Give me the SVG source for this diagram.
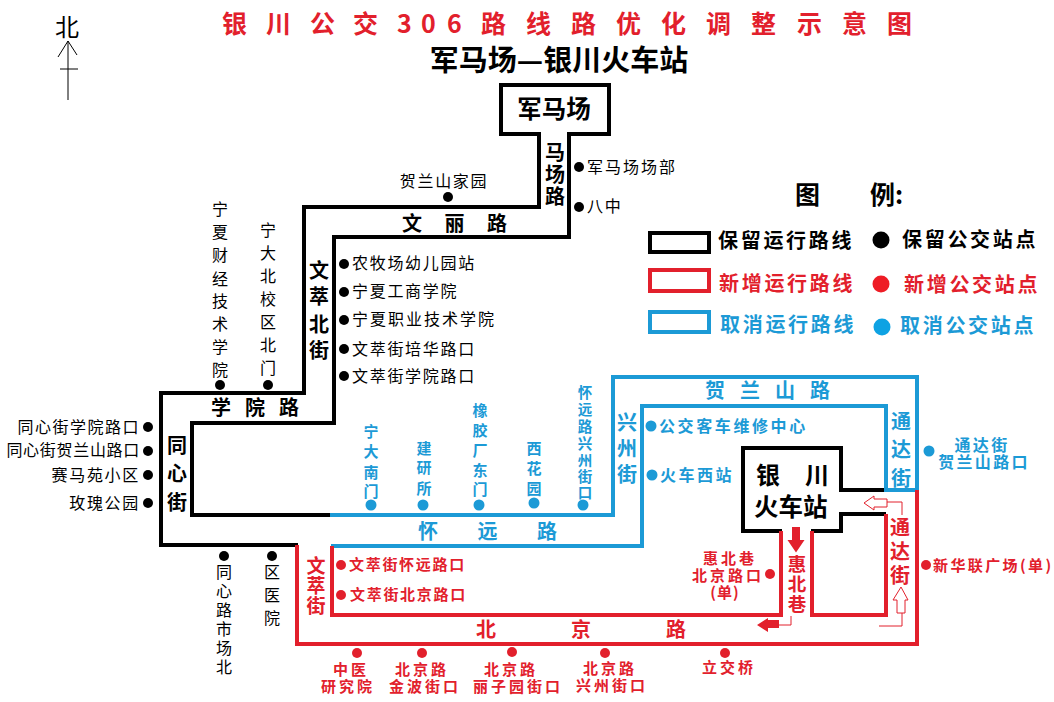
<svg xmlns="http://www.w3.org/2000/svg" width="1054" height="702" viewBox="0 0 1054 702">
<style>
text{font-family:"Noto Sans CJK SC","Liberation Sans",sans-serif}
.k{fill:#000}.r{fill:#e2202c}.b{fill:#1c9ad6}
.bd{font-weight:700}
.m{font-size:16px;letter-spacing:1.700px}
.v{font-size:16px}
.sr{font-size:15px;font-weight:700;letter-spacing:3px}
.l{font-size:20px;font-weight:700;letter-spacing:2.700px}
.rt{fill:none;stroke-width:4;stroke-linejoin:miter}
.kl{stroke:#000}.rl{stroke:#e2202c}.bl{stroke:#1c9ad6}
.thin{fill:none;stroke-width:1}
</style>
<rect width="1054" height="702" fill="#fff"/>
<g id="connectors">
<path class="rt kl" d="M330 515H192V423H334V237H569V134H609V85H501V134H539V207H304V393H161V545H298"/>
<path class="rt kl" d="M782 531H743V448H841V490H886M886 514H841V531H811"/>
<path class="rt bl" d="M330 515H613V377H917V490H886V406H642V546H331"/>
<path class="rt rl" d="M297 545V644H917V490"/>
<path class="rt rl" d="M332 546V615H781V531"/>
<path class="rt rl" d="M812 531V615H886V514"/>
<path class="thin" stroke="#000" d="M68 100V41M58 57L68 41L77 55M60 69H78"/>
<path class="thin" stroke="#e2202c" d="M791 616V625H779M887 502H902V515M902 613V626H879"/>
<path d="M792 527h8v13h4.500l-8.500 12.500l-8.500-12.500h4.500z" fill="#e2202c"/>
<path d="M779 620v8H768v4l-11-7l11-7v2z" fill="#e2202c"/>
<path d="M887 499v8H874v3l-10-7l10-7v3z" fill="#fff" stroke="#e2202c"/>
<path d="M897 613V600h-4l8-13l7 13h-3v13z" fill="#fff" stroke="#e2202c"/>
</g>
<g id="title">
<text y="33" x="222 266 310 353 397 421 447 481 526 571 616 661 706 751 797 842 887" class="r bd" font-size="25">银川公交306路线路优化调整示意图</text>
<text x="559" y="71" text-anchor="middle" class="k bd" font-size="29">军马场—银川火车站</text>
<text x="67" y="36" text-anchor="middle" class="k" font-size="24">北</text>
</g>
<g id="terminals">
<text x="554" y="118" text-anchor="middle" class="k bd" font-size="24.500">军马场</text>
<text x="756 805" y="484" class="k bd" font-size="24">银川</text>
<text x="754" y="516" class="k bd" font-size="24.500">火车站</text>
</g>
<g id="roads">
<g class="k bd" font-size="20" text-anchor="middle">
<text x="555 555 555" y="160 182 204">马场路</text>
<text x="319 319 319 319" y="278 304 332 358">文萃北街</text>
<text x="177 177 177" y="453 481 510">同心街</text>
</g>
<text x="402" y="231" class="k bd" font-size="20" letter-spacing="22.500">文丽路</text>
<text x="211" y="415" class="k bd" font-size="20" letter-spacing="14">学院路</text>
<text x="705" y="398" class="b bd" font-size="20" letter-spacing="15">贺兰山路</text>
<text x="418" y="539" class="b bd" font-size="20" letter-spacing="39.500">怀远路</text>
<text x="476" y="637" class="r bd" font-size="20" letter-spacing="75">北京路</text>
<g class="b bd" font-size="20" text-anchor="middle">
<text x="627 627 627" y="430 456 482">兴州街</text>
<text x="901 901 901" y="429 457 486">通达街</text>
</g>
<g class="r bd" text-anchor="middle">
<text x="900 900 900" y="535 559 583" font-size="20">通达街</text>
<text x="797 797 797" y="571 591 611" font-size="18.500">惠北巷</text>
<text x="316 316 316" y="573 593 613" font-size="19">文萃街</text>
</g>
</g>
<g id="stops-black" class="k">
<circle cx="448" cy="197" r="5"/><text x="444" y="187" text-anchor="middle" class="m">贺兰山家园</text>
<circle cx="579" cy="167" r="5"/><text x="587" y="173" class="m" style="letter-spacing:2px">军马场场部</text>
<circle cx="579" cy="207" r="5"/><text x="587" y="212" class="m">八中</text>
<g class="m">
<circle cx="344" cy="264" r="5"/><text x="352" y="269">农牧场幼儿园站</text>
<circle cx="344" cy="292" r="5"/><text x="352" y="297">宁夏工商学院</text>
<circle cx="344" cy="320" r="5"/><text x="352" y="325" style="letter-spacing:2px">宁夏职业技术学院</text>
<circle cx="344" cy="349" r="5"/><text x="352" y="355">文萃街培华路口</text>
<circle cx="344" cy="376" r="5"/><text x="352" y="382">文萃街学院路口</text>
<circle cx="148" cy="427" r="5"/><text x="140" y="433" text-anchor="end" style="letter-spacing:1.500px">同心街学院路口</text>
<circle cx="148" cy="451" r="5"/><text x="140" y="456" text-anchor="end" style="letter-spacing:.7px">同心街贺兰山路口</text>
<circle cx="148" cy="475" r="5"/><text x="140" y="481" text-anchor="end">赛马苑小区</text>
<circle cx="148" cy="503" r="5"/><text x="140" y="509" text-anchor="end">玫瑰公园</text>
</g>
<circle cx="220" cy="385" r="5"/><circle cx="268" cy="385" r="5"/>
<circle cx="224" cy="556" r="5"/><circle cx="272" cy="556" r="5"/>
<g class="v" text-anchor="middle">
<text x="220 220 220 220 220 220 220 220" y="215 238 261 285 307 330 353 376">宁夏财经技术学院</text>
<text x="268 268 268 268 268 268 268" y="236 259 282 305 328 351 374">宁大北校区北门</text>
<text x="224 224 224 224 224 224" y="578 597 616 635 654 673">同心路市场北</text>
<text x="272 272 272" y="578 601 624">区医院</text>
</g>
</g>
<g id="stops-blue" class="b">
<circle cx="371" cy="505" r="5.500"/><circle cx="423" cy="505" r="5.500"/><circle cx="479" cy="505" r="5.500"/><circle cx="534" cy="503" r="5.500"/><circle cx="583" cy="505" r="5.500"/>
<g text-anchor="middle" font-size="15" font-weight="700">
<text x="371 371 371 371" y="437 457 478 497">宁大南门</text>
<text x="424 424 424" y="454 473 494">建研所</text>
<text x="480 480 480 480 480" y="416 436 456 476 495">橡胶厂东门</text>
<text x="534 534 534" y="454 474 494">西花园</text>
</g>
<text x="585 585 585 585 585 585 585" y="398 415 432 449 466 482 498" text-anchor="middle" font-size="14.500" font-weight="700">怀远路兴州街口</text>
<circle cx="651" cy="426" r="5.500"/><text x="659" y="432" font-size="16" font-weight="700" letter-spacing="2.600">公交客车维修中心</text>
<circle cx="652" cy="475" r="5.500"/><text x="660" y="481" font-size="16" font-weight="700" letter-spacing="2.500">火车西站</text>
<circle cx="929" cy="451" r="5.500"/>
<text text-anchor="middle" font-size="16" font-weight="700" letter-spacing="2.300"><tspan x="982" y="451">通达街</tspan><tspan x="984" y="468">贺兰山路口</tspan></text>
</g>
<g id="stops-red" class="r">
<circle cx="341" cy="565" r="5"/><text x="349" y="570" class="sr" style="letter-spacing:1.700px">文萃街怀远路口</text>
<circle cx="341" cy="595" r="5"/><text x="350" y="600" class="sr" style="letter-spacing:1.700px">文萃街北京路口</text>
<circle cx="770" cy="574" r="5"/><text text-anchor="middle" class="sr"><tspan x="730" y="564">惠北巷</tspan><tspan x="728" y="581">北京路口</tspan><tspan x="725" y="598" style="letter-spacing:1px">(单)</tspan></text>
<circle cx="926" cy="565" r="5"/><text x="933" y="571" class="sr" style="letter-spacing:2.400px">新华联广场(单)</text>
<circle cx="357" cy="653" r="5"/><text text-anchor="middle" class="sr"><tspan x="351" y="675">中医</tspan><tspan x="348" y="692">研究院</tspan></text>
<circle cx="422" cy="653" r="5"/><text text-anchor="middle" class="sr"><tspan x="422" y="675">北京路</tspan><tspan x="425" y="692">金波街口</tspan></text>
<circle cx="512" cy="652" r="5"/><text text-anchor="middle" class="sr"><tspan x="511" y="675">北京路</tspan><tspan x="518" y="692">丽子园街口</tspan></text>
<circle cx="605" cy="653" r="5"/><text text-anchor="middle" class="sr"><tspan x="610" y="674">北京路</tspan><tspan x="612" y="691">兴州街口</tspan></text>
<circle cx="725" cy="653" r="5"/><text x="729" y="673" text-anchor="middle" class="sr">立交桥</text>
</g>
<g id="legend">
<text x="795 870 895" y="204" class="k bd" font-size="25">图例:</text>
<rect x="650" y="233" width="59" height="19" class="rt kl"/>
<rect x="650" y="270" width="59" height="21" class="rt rl"/>
<rect x="650" y="312" width="59" height="20" class="rt bl"/>
<text x="718" y="248" class="k l">保留运行路线</text>
<text x="719" y="291" class="r l">新增运行路线</text>
<text x="720" y="332" class="b l">取消运行路线</text>
<circle cx="881" cy="240" r="8.500" fill="#000"/>
<circle cx="881" cy="284" r="8.500" fill="#ee1c25"/>
<circle cx="882" cy="327" r="8.500" fill="#0ea2e3"/>
<text x="902" y="247" class="k l">保留公交站点</text>
<text x="904" y="292" class="r l">新增公交站点</text>
<text x="900" y="333" class="b l">取消公交站点</text>
</g>
</svg>
